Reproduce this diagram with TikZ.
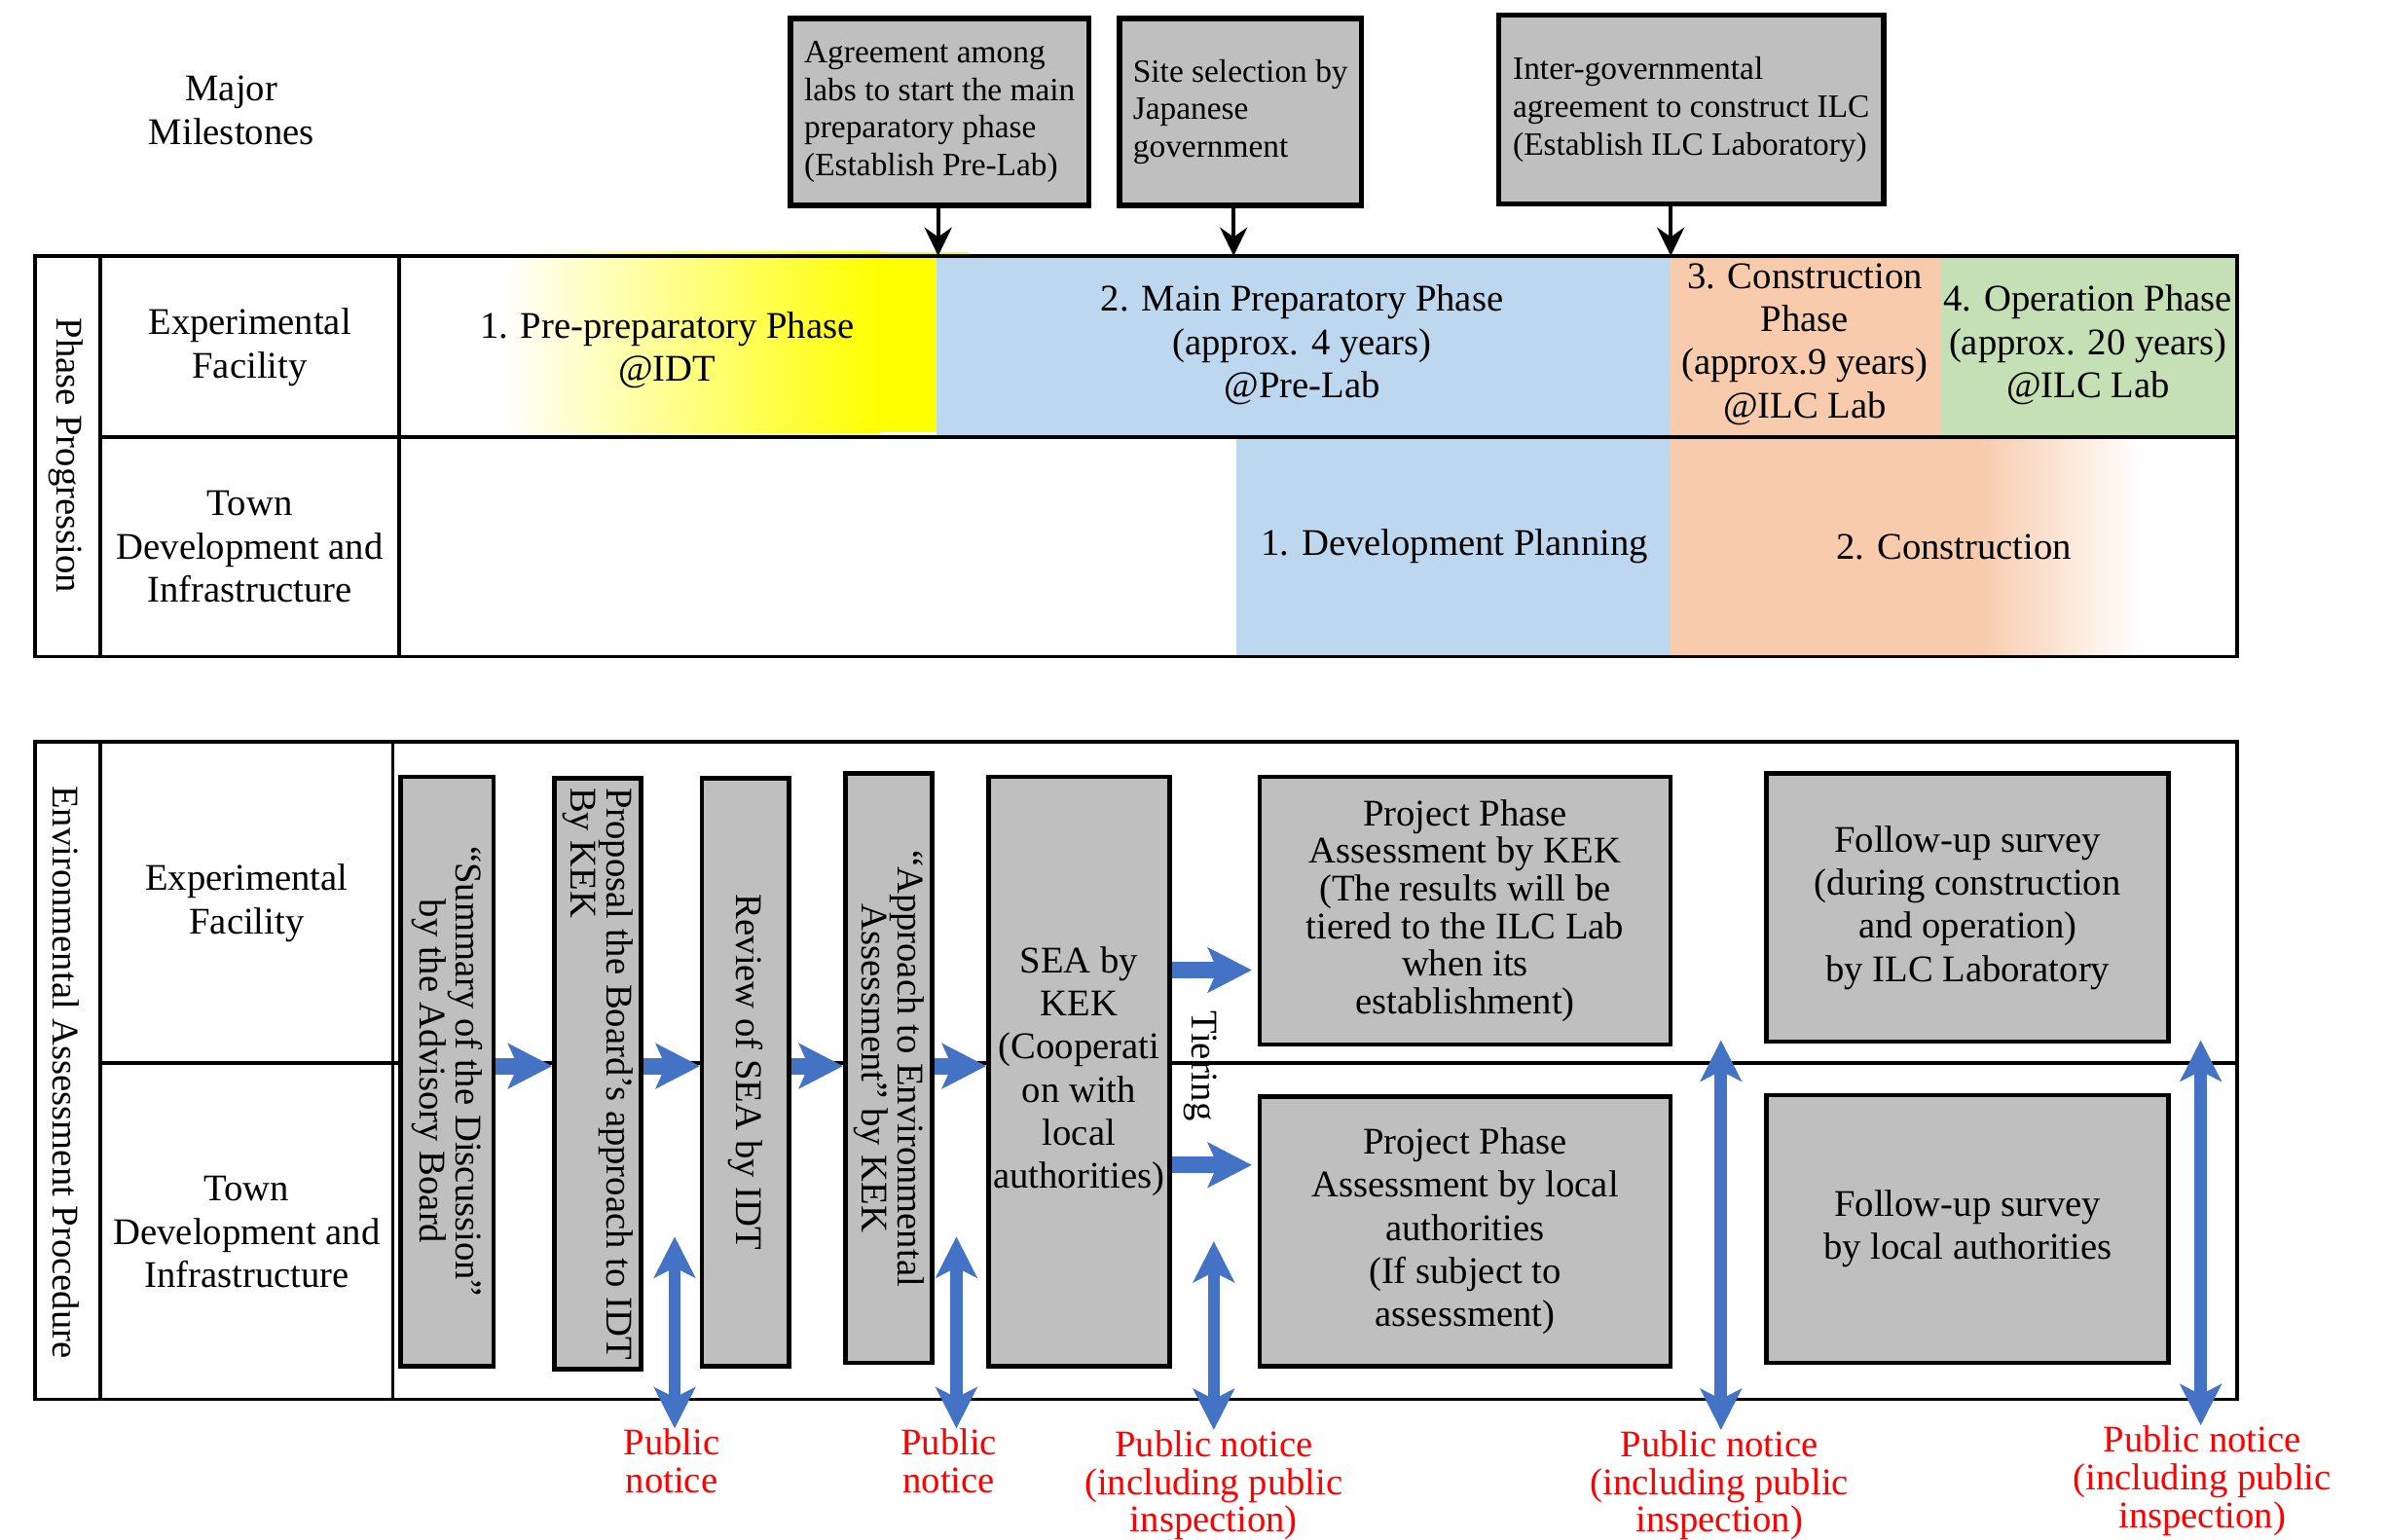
\documentclass[tikz,border=0pt]{standalone}
\usepackage{fontspec}
\setmainfont{Liberation Serif}
\usetikzlibrary{arrows.meta}

\definecolor{phaseyellow}{RGB}{255,255,0}
\definecolor{phaseblue}{RGB}{189,215,238}
\definecolor{phaseorange}{RGB}{248,203,173}
\definecolor{phasegreen}{RGB}{197,224,180}
\definecolor{boxgray}{RGB}{191,191,191}
\definecolor{arrowblue}{RGB}{68,114,196}
\definecolor{noticered}{RGB}{255,0,0}

\tikzset{
  gridline/.style={line width=1pt},
  celltext/.style={align=center, font=\fontsize{11}{12.6}\selectfont, inner sep=0pt},
  sidetext/.style={celltext, rotate=-90},
  msbox/.style={draw, fill=boxgray, line width=1.6pt, align=left, font=\fontsize{9.5}{11}\selectfont, inner sep=0pt},
  eabox/.style={draw, fill=boxgray, line width=1.3pt, align=center, font=\fontsize{11}{12.6}\selectfont, inner sep=0pt},
  vbox/.style={eabox, rotate=-90, font=\fontsize{11}{10.5}\selectfont},
  msarrow/.style={line width=1.2pt, -{Stealth[length=8.3pt, width=8pt, inset=2.8pt]}},
  flow/.style={arrowblue, line width=4.8pt, -{Stealth[length=12.8pt, width=13pt, inset=2.8pt]}},
  notify/.style={arrowblue, line width=3.6pt, {Stealth[length=12pt, width=12pt, inset=3pt]}-{Stealth[length=12pt, width=12pt, inset=3pt]}},
  notice/.style={text=noticered, align=center, font=\fontsize{11}{11}\selectfont, inner sep=0pt, anchor=north},
}

\begin{document}
\begin{tikzpicture}[x=0.015644cm, y=-0.015644cm]
\def\px{0.015644cm}
\useasboundingbox (0,0) rectangle (1568,1011);

\shade[left color=white, right color=phaseyellow] (330,165.5) rectangle (578,284);
\fill[phaseyellow] (577,165.5) rectangle (636,168);
\fill[phaseyellow] (577,168) rectangle (615,284);
\fill[phaseblue] (615,168) rectangle (1097,287);
\fill[phaseorange] (1097,168) rectangle (1274,287);
\fill[phasegreen] (1274,168) rectangle (1469,287);
\fill[phaseblue] (812,287) rectangle (1097,431);
\fill[phaseorange] (1097,287) rectangle (1300,430);
\shade[left color=phaseorange, right color=white] (1299,287) rectangle (1405,430);

\draw[gridline] (23,168) rectangle (1469,431);
\draw[gridline] (66,168) -- (66,431);
\draw[gridline] (262,168) -- (262,431);
\draw[gridline] (66,287) -- (1469,287);

\draw[gridline] (23,487) rectangle (1469,919);
\draw[gridline] (66,487) -- (66,919);
\draw[gridline] (258,487) -- (258,919);
\draw[gridline] (66,698) -- (1469,698);

\node[celltext] (major) at (152,72.5) {Major\\Milestones};
\node[msbox, minimum width=196*\px, minimum height=123*\px] (agree) at (617,73.5) {Agreement among\\labs to start the main\\preparatory phase\\(Establish Pre-Lab)};
\node[msbox, minimum width=159*\px, minimum height=123*\px] (site) at (814.5,73.5) {Site selection by\\Japanese\\government};
\node[msbox, minimum width=253*\px, minimum height=124*\px] (treaty) at (1110.5,72) {Inter-governmental\\agreement to construct ILC\\(Establish ILC Laboratory)};
\coordinate (agreeend) at (616,168);
\coordinate (siteend) at (810,168);
\coordinate (treatyend) at (1097,168);
\draw[msarrow] (agree.south -| agreeend) -- (agreeend);
\draw[msarrow] (site.south -| siteend) -- (siteend);
\draw[msarrow] (treaty.south -| treatyend) -- (treatyend);

\node[sidetext] (phaseprog) at (43,299) {Phase Progression};
\node[celltext] (expfac) at (164,228) {Experimental\\Facility};
\node[celltext] (town) at (164,359) {Town\\Development and\\Infrastructure};
\node[celltext] (prephase) at (438,230) {1. Pre-preparatory Phase\\@IDT};
\node[celltext] (mainphase) at (855,226.5) {2. Main Preparatory Phase\\(approx. 4 years)\\@Pre-Lab};
\node[celltext] (constphase) at (1185,226) {3. Construction\\Phase\\(approx.9 years)\\@ILC Lab};
\node[celltext] (opphase) at (1371,226.5) {4. Operation Phase\\(approx. 20 years)\\@ILC Lab};
\node[celltext] (devplan) at (955,359) {1. Development Planning};
\node[celltext] (townconst) at (1283,359) {2. Construction};

\node[sidetext] (eaproc) at (43,704) {Environmental Assessment Procedure};
\node[celltext] (eaexp) at (162,593) {Experimental\\Facility};
\node[celltext] (eatown) at (162,809) {Town\\Development and\\Infrastructure};

\node[vbox, minimum width=387*\px, minimum height=61*\px] (summary) at (293.5,703.5) {“Summary of the Discussion”\\by the Advisory Board};
\node[vbox, align=left, minimum width=388*\px, minimum height=57*\px] (proposal) at (392.5,705) {Proposal the Board’s approach to IDT\\By KEK};
\node[vbox, minimum width=386*\px, minimum height=57*\px] (review) at (489.5,704) {Review of SEA by IDT};
\node[vbox, minimum width=387*\px, minimum height=57*\px] (approach) at (583.5,701.5) {“Approach to Environmental\\Assessment” by KEK};
\node[eabox, minimum width=119*\px, minimum height=387*\px] (sea) at (708.5,703.5) {SEA by\\KEK\\(Cooperati\\on with\\local\\authorities)};
\node[eabox, minimum width=270*\px, minimum height=176*\px, font=\fontsize{11}{11}\selectfont] (ppkek) at (962,598) {Project Phase\\Assessment by KEK\\(The results will be\\tiered to the ILC Lab\\when its\\establishment)};
\node[eabox, minimum width=270*\px, minimum height=177*\px] (pplocal) at (962,808.5) {Project Phase\\Assessment by local\\authorities\\(If subject to\\assessment)};
\node[eabox, minimum width=264*\px, minimum height=176*\px] (fuilc) at (1292,596) {Follow-up survey\\(during construction\\and operation)\\by ILC Laboratory};
\node[eabox, minimum width=264*\px, minimum height=176*\px] (fulocal) at (1292,807) {Follow-up survey\\by local authorities};
\node[sidetext] (tiering) at (788,700) {Tiering};

\coordinate (flowline) at (258,700);
\draw[flow] (summary.north |- flowline) -- (proposal.south |- flowline);
\draw[flow] (proposal.north |- flowline) -- (review.south |- flowline);
\draw[flow] (review.north |- flowline) -- (approach.south |- flowline);
\draw[flow] (approach.north |- flowline) -- (sea.west |- flowline);
\coordinate (tierkek) at (822,637);
\coordinate (tierlocal) at (822,765);
\draw[flow] (sea.east |- tierkek) -- (tierkek);
\draw[flow] (sea.east |- tierlocal) -- (tierlocal);

\node[notice] (notice1) at (441,938) {Public\\notice};
\node[notice] (notice2) at (623,938) {Public\\notice};
\node[notice] (notice3) at (797,939) {Public notice\\(including public\\inspection)};
\node[notice] (notice4) at (1129,939) {Public notice\\(including public\\inspection)};
\node[notice] (notice5) at (1446,936) {Public notice\\(including public\\inspection)};
\coordinate (top1) at (443,812);
\coordinate (top2) at (628,812);
\coordinate (top3) at (797,815);
\coordinate (top4) at (1130,683);
\coordinate (top5) at (1445,683);
\draw[notify] (top1 |- notice1.north) -- (top1);
\draw[notify] (top2 |- notice2.north) -- (top2);
\draw[notify] (top3 |- notice3.north) -- (top3);
\draw[notify] (top4 |- notice4.north) -- (top4);
\draw[notify] (top5 |- notice5.north) -- (top5);
\end{tikzpicture}
\end{document}
